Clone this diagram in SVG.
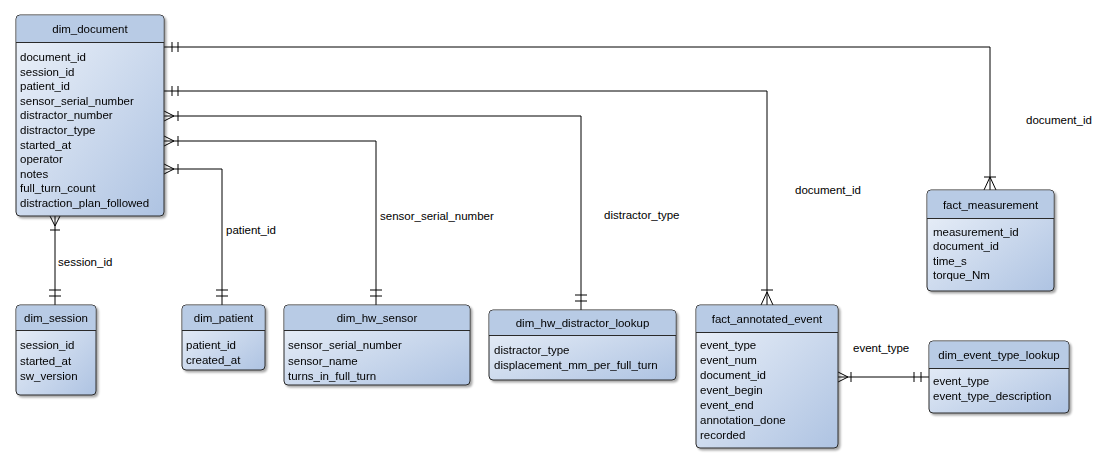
<svg xmlns="http://www.w3.org/2000/svg" width="1111" height="464" viewBox="0 0 1111 464">
<style>
text{font-family:"Liberation Sans",Arial,sans-serif;font-size:11.5px;fill:#000}
.box{fill:url(#g);stroke:#2b2b2b;stroke-width:1}
.hd{fill:#b8cbe5}
.t{text-anchor:middle}
.c path{fill:none;stroke:#000;stroke-width:1}
</style>
<defs>
<linearGradient id="g" x1="0" y1="0" x2="1" y2="1"><stop offset="0" stop-color="#eef3fa"/><stop offset="1" stop-color="#aec3e2"/></linearGradient>
<filter id="sh"><feDropShadow dx="2" dy="2" stdDeviation="1.2" flood-opacity="0.35"/></filter>
</defs>
<g class="c">
<path d="M164 47H990V190M172 42V52M178 42V52M984 177H996M990 177L984 190M990 177L996 190"/>
<path d="M164 91H767V305M172 86V96M178 86V96M761 290H773M767 292L761 305M767 292L773 305"/>
<path d="M164 116H581V310M164 111L174 116L164 121M178 111V121M575 295H587M575 301H587"/>
<path d="M164 141H376V305M164 136L174 141L164 146M178 136V146M370 290H382M370 296H382"/>
<path d="M164 169H222V305M164 164L174 169L164 174M178 164V174M216 290H228M216 296H228"/>
<path d="M55 216V305M50 216L55 226L60 216M50 230H60M49 290H61M49 296H61"/>
<path d="M838 377H929M838 372L848 377L838 382M851 372V382M914 372V382M921 372V382"/>
</g>
<g>
<text x="1026" y="124">document_id</text>
<text x="795" y="194">document_id</text>
<text x="604" y="219">distractor_type</text>
<text x="380" y="220">sensor_serial_number</text>
<text x="226" y="234">patient_id</text>
<text x="58" y="266">session_id</text>
<text x="853" y="352">event_type</text>
</g>
<g id="dim_document" filter="url(#sh)">
<rect class="box" x="16" y="15" width="148" height="201" rx="4"/>
<path class="hd" d="M16.5 42V19a3.5 3.5 0 0 1 3.5-3.5h140a3.5 3.5 0 0 1 3.5 3.5V42Z"/>
<path d="M16 42.5H164" stroke="#2b2b2b"/>
<text class="t" x="90" y="33">dim_document</text>
<text x="20" y="61">document_id</text><text x="20" y="75.6">session_id</text><text x="20" y="90.2">patient_id</text><text x="20" y="104.8">sensor_serial_number</text><text x="20" y="119.4">distractor_number</text><text x="20" y="134">distractor_type</text><text x="20" y="148.6">started_at</text><text x="20" y="163.2">operator</text><text x="20" y="177.8">notes</text><text x="20" y="192.4">full_turn_count</text><text x="20" y="207">distraction_plan_followed</text>
</g>
<g id="dim_session" filter="url(#sh)">
<rect class="box" x="16" y="305" width="80" height="90" rx="4"/>
<path class="hd" d="M16.5 330V309a3.5 3.5 0 0 1 3.5-3.5h72a3.5 3.5 0 0 1 3.5 3.5V330Z"/>
<path d="M16 330.5H96" stroke="#2b2b2b"/>
<text class="t" x="56" y="322">dim_session</text>
<text x="20" y="349">session_id</text><text x="20" y="364.5">started_at</text><text x="20" y="380">sw_version</text>
</g>
<g id="dim_patient" filter="url(#sh)">
<rect class="box" x="182" y="305" width="83" height="65" rx="4"/>
<path class="hd" d="M182.5 330V309a3.5 3.5 0 0 1 3.5-3.5h75a3.5 3.5 0 0 1 3.5 3.5V330Z"/>
<path d="M182 330.5H265" stroke="#2b2b2b"/>
<text class="t" x="223.5" y="322">dim_patient</text>
<text x="186" y="349">patient_id</text><text x="186" y="364">created_at</text>
</g>
<g id="dim_hw_sensor" filter="url(#sh)">
<rect class="box" x="284" y="305" width="186" height="80" rx="4"/>
<path class="hd" d="M284.5 330V309a3.5 3.5 0 0 1 3.5-3.5h178a3.5 3.5 0 0 1 3.5 3.5V330Z"/>
<path d="M284 330.5H470" stroke="#2b2b2b"/>
<text class="t" x="377" y="322">dim_hw_sensor</text>
<text x="288" y="349">sensor_serial_number</text><text x="288" y="364.5">sensor_name</text><text x="288" y="380">turns_in_full_turn</text>
</g>
<g id="dim_hw_distractor_lookup" filter="url(#sh)">
<rect class="box" x="489" y="310" width="187" height="70" rx="4"/>
<path class="hd" d="M489.5 335V314a3.5 3.5 0 0 1 3.5-3.5h179a3.5 3.5 0 0 1 3.5 3.5V335Z"/>
<path d="M489 335.5H676" stroke="#2b2b2b"/>
<text class="t" x="582.5" y="327">dim_hw_distractor_lookup</text>
<text x="494" y="354">distractor_type</text><text x="494" y="369">displacement_mm_per_full_turn</text>
</g>
<g id="fact_annotated_event" filter="url(#sh)">
<rect class="box" x="696" y="305" width="142" height="143" rx="4"/>
<path class="hd" d="M696.5 332V309a3.5 3.5 0 0 1 3.5-3.5h134a3.5 3.5 0 0 1 3.5 3.5V332Z"/>
<path d="M696 332.5H838" stroke="#2b2b2b"/>
<text class="t" x="767" y="323">fact_annotated_event</text>
<text x="700" y="349">event_type</text><text x="700" y="364">event_num</text><text x="700" y="379">document_id</text><text x="700" y="394">event_begin</text><text x="700" y="409">event_end</text><text x="700" y="424">annotation_done</text><text x="700" y="438.5">recorded</text>
</g>
<g id="fact_measurement" filter="url(#sh)">
<rect class="box" x="927" y="190" width="127" height="101" rx="4"/>
<path class="hd" d="M927.5 218V194a3.5 3.5 0 0 1 3.5-3.5h119a3.5 3.5 0 0 1 3.5 3.5V218Z"/>
<path d="M927 218.5H1054" stroke="#2b2b2b"/>
<text class="t" x="990.5" y="209">fact_measurement</text>
<text x="933" y="236">measurement_id</text><text x="933" y="250">document_id</text><text x="933" y="265">time_s</text><text x="933" y="279">torque_Nm</text>
</g>
<g id="dim_event_type_lookup" filter="url(#sh)">
<rect class="box" x="929" y="341" width="140" height="72" rx="4"/>
<path class="hd" d="M929.5 368V345a3.5 3.5 0 0 1 3.5-3.5h132a3.5 3.5 0 0 1 3.5 3.5V368Z"/>
<path d="M929 368.5H1069" stroke="#2b2b2b"/>
<text class="t" x="999" y="359">dim_event_type_lookup</text>
<text x="933" y="385">event_type</text><text x="933" y="400">event_type_description</text>
</g>
</svg>
